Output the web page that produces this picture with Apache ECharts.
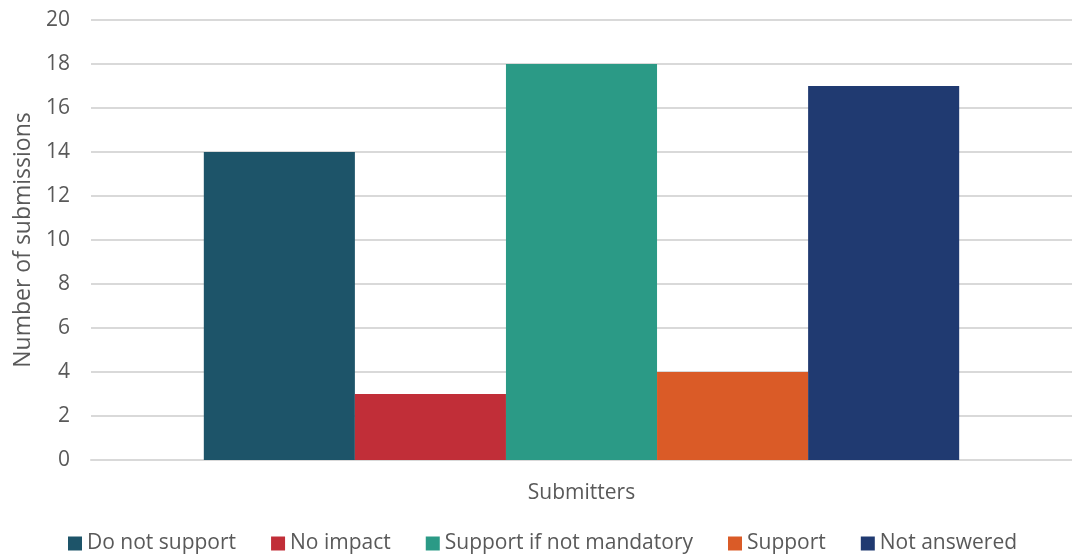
<!DOCTYPE html>
<html><head><meta charset="utf-8">
<script src="https://cdn.jsdelivr.net/npm/echarts@6/dist/echarts.min.js"></script>
<style>html,body{margin:0;padding:0;background:#fff;overflow:hidden}#c{width:1072px;height:558px}</style>
</head><body><div id="c"></div>
<script>
const categories = ['Submitters'];
const seriesNames = ['Do not support', 'No impact', 'Support if not mandatory', 'Support', 'Not answered'];
const seriesValues = [[14], [3], [18], [4], [17]];
const colors = ['#1D5469', '#C12E38', '#2B9A86', '#DA5B27', '#203A71'];
const yTicks = { min: 0, max: 20, interval: 2 };

const font = '"Open Sans", "Noto Sans", sans-serif';
const chart = echarts.init(document.getElementById('c'));
chart.setOption({
  animation: false,
  textStyle: { fontFamily: font },
  grid: { left: 91, width: 989, top: 20, bottom: 98, containLabel: false },
  legend: {
    top: 528, left: 63, itemWidth: 14, itemHeight: 14, itemGap: 35,
    icon: 'rect',
    textStyle: { fontSize: 21, color: '#595959', fontFamily: font },
    data: seriesNames
  },
  xAxis: {
    type: 'category', data: categories,
    axisTick: { show: false },
    axisLabel: { show: false },
    axisLine: { lineStyle: { color: '#D9D9D9', width: 2 } },
    name: categories[0], nameLocation: 'middle', nameGap: 23,
    nameTextStyle: { fontSize: 21, color: '#595959' }
  },
  yAxis: {
    type: 'value', min: yTicks.min, max: yTicks.max, interval: yTicks.interval,
    axisLabel: { fontSize: 21, color: '#595959', margin: 21 },
    splitLine: { lineStyle: { color: '#D9D9D9', width: 2 } },
    axisLine: { show: false }, axisTick: { show: false },
    name: 'Number of submissions', nameLocation: 'middle', nameGap: 56,
    nameTextStyle: { fontSize: 23, color: '#595959' }
  },
  series: seriesNames.map((n, i) => ({
    name: n, type: 'bar', data: seriesValues[i],
    barGap: '0%', barCategoryGap: '23.0%',
    itemStyle: { color: colors[i] }
  }))
});
</script></body></html>
